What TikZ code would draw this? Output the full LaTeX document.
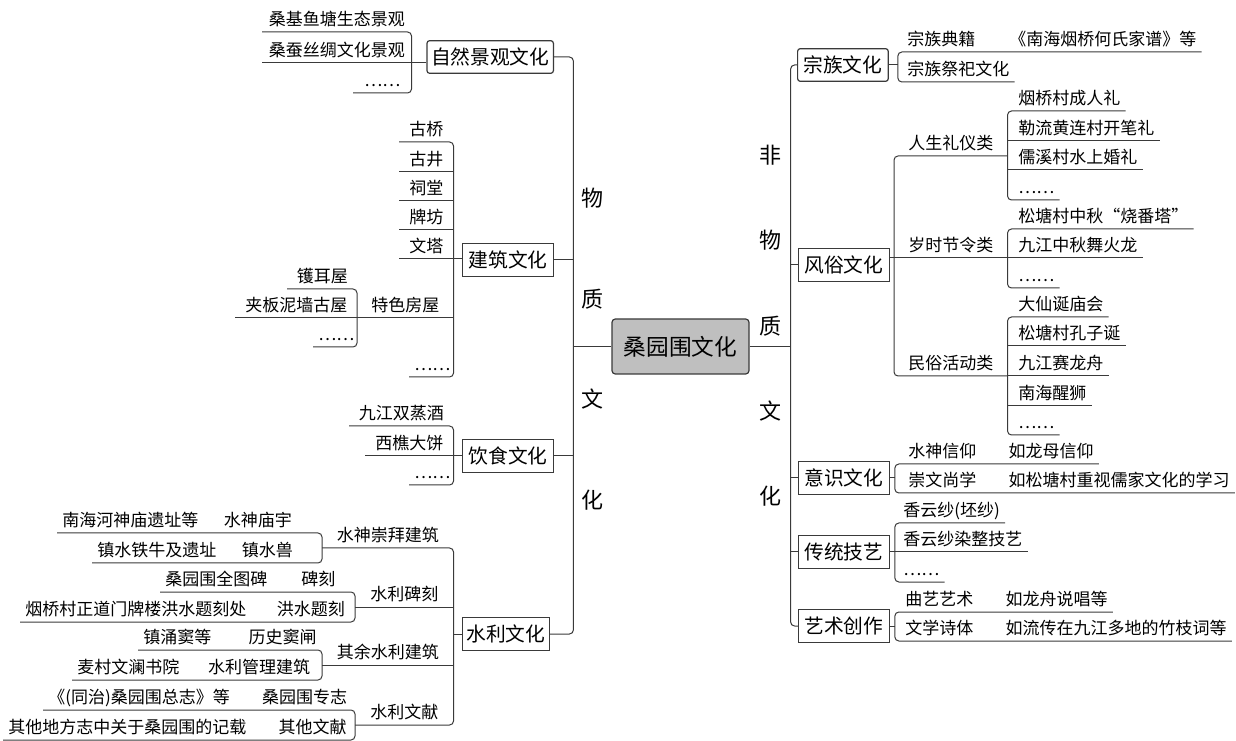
\documentclass[tikz,border=0pt]{standalone}
\usepackage{fontspec}
\setmainfont{Noto Sans CJK SC}
\usetikzlibrary{calc}
\definecolor{rootgray}{HTML}{BFBFBF}
\definecolor{lncol}{HTML}{3A3A3A}

\begin{document}
\begin{tikzpicture}[x=0.75pt,y=-0.75pt,
  ln/.style={draw=lncol,line width=0.75pt},
  cn/.style={ln,rounded corners=3pt},
  lf/.style={anchor=south west,inner xsep=3.75pt,inner ysep=2.7pt,text height=10.5pt,text depth=2pt,font=\fontsize{12.75}{14}\selectfont},
  box/.style={draw=lncol,line width=0.9pt,minimum width=68pt,minimum height=24.5pt,inner xsep=3pt,font=\fontsize{14.8}{16}\selectfont},
  vlab/.style={align=center,inner sep=0pt,font=\fontsize{16.5}{#1}\selectfont}]
\useasboundingbox (0,0) rectangle (1236,741);

% root and the two bars
\node[draw=lncol,line width=0.9pt,fill=rootgray,rounded corners=2.5pt,minimum width=102.75pt,minimum height=41.25pt,font=\fontsize{17}{19}\selectfont] (root) at (680.5,346.5) {桑园围文化};
\coordinate (lj) at ([xshift=-28.5pt]root.west);
\coordinate (rj) at ([xshift=30.75pt]root.east);
\node[vlab=75.5] (wz) at (592,349) {物\\质\\文\\化};
\node[vlab=64] (fwz) at (770,326) {非\\物\\质\\文\\化};

% left boxes
\node[box,anchor=east,minimum width=94.5pt,rounded corners=2pt] (nat) at (554,57) {自然景观文化};
\node[box,anchor=east] (arch) at (554,260) {建筑文化};
\node[box,anchor=east] (food) at (554,456) {饮食文化};
\node[box,anchor=east,minimum width=64.5pt] (water) at (550,634) {水利文化};

% right boxes
\node[box,anchor=west,rounded corners=2pt] (zong) at (797,65) {宗族文化};
\node[box,anchor=west] (fs) at (798,265) {风俗文化};
\node[box,anchor=west] (yishi) at (798,478) {意识文化};
\node[box,anchor=west] (ct) at (798,552) {传统技艺};
\node[box,anchor=west] (ys) at (798,626) {艺术创作};

\draw[ln] (root.west) -- (lj);
\draw[cn] (nat.east) -| (lj) |- (water.east);
\draw[ln] (arch.east) -- (lj |- arch.east);
\draw[ln] (food.east) -- (lj |- food.east);
\draw[ln] (root.east) -- (rj);
\draw[cn] (zong.west) -| (rj) |- (ys.west);
\draw[ln] (rj |- fs.west) -- (fs.west);
\draw[ln] (rj |- yishi.west) -- (yishi.west);
\draw[ln] (rj |- ct.west) -- (ct.west);

% 自然景观文化
\node[lf,minimum width=111.75pt] (z1) at (262,32) {桑基鱼塘生态景观};
\node[lf,minimum width=111.75pt] (z2) at (262,63) {桑蚕丝绸文化景观};
\node[lf,minimum width=43.5pt] (z3) at (353,93) {……};
\draw[cn] (z1.south west) -| (z2.south east) |- (z3.south west);
\draw[ln] (nat.west |- z2.south) -- (z2.south west);

% 建筑文化
\node[lf,minimum width=40.5pt] (a1) at (399,142) {古桥};
\node[lf,minimum width=40.5pt] (a2) at (399,172) {古井};
\node[lf,minimum width=40.5pt] (a3) at (399,201) {祠堂};
\node[lf,minimum width=40.5pt] (a4) at (399,230) {牌坊};
\node[lf,minimum width=40.5pt] (a5) at (399,259) {文塔};
\node[lf,minimum width=72pt] (a6) at (357,318) {特色房屋};
\node[lf,minimum width=33pt] (a7) at (409,377) {……};
\draw[cn] (a1.south west) -| (a5.south east) |- (a7.south west);
\draw[ln] (a5.south east |- a2.south) -- (a2.south west);
\draw[ln] (a5.south east |- a3.south) -- (a3.south west);
\draw[ln] (a5.south east |- a4.south) -- (a4.south west);
\draw[ln] (a5.south east |- a6.south) -- (a6.south west);
\draw[ln] (arch.west |- a5.south) -- (a5.south west);
\node[lf,minimum width=52.5pt] (h1) at (287,289) {镬耳屋};
\node[lf,minimum width=91.5pt] (h2) at (235,318) {夹板泥墙古屋};
\node[lf,minimum width=33pt] (h3) at (313,347) {……};
\draw[cn] (h1.south west) -| (a6.south west) |- (h3.south west);
\draw[ln] (a6.south west) -- (h2.south west);

% 饮食文化
\node[lf,minimum width=78pt] (f1) at (349,426) {九江双蒸酒};
\node[lf,minimum width=66pt] (f2) at (365,456) {西樵大饼};
\node[lf,minimum width=33pt] (f3) at (409,485) {……};
\draw[cn] (f1.south west) -| (f2.south east) |- (f3.south west);
\draw[ln] (food.west |- f2.south) -- (f2.south west);

% 水利文化
\node[lf,minimum width=98.25pt] (w1) at (322,548) {水神崇拜建筑};
\node[lf,minimum width=73.5pt] (w2) at (355,607) {水利碑刻};
\node[lf,minimum width=98.25pt] (w3) at (322,665) {其余水利建筑};
\node[lf,minimum width=73.5pt] (w4) at (355,725) {水利文献};
\coordinate (waterj) at (w1.south east |- water.west);
\draw[cn] (w1.south west) -| (waterj) |- (w4.south west);
\draw[ln] (waterj |- w2.south) -- (w2.south west);
\draw[ln] (waterj |- w3.south) -- (w3.south west);
\draw[ln] (water.west) -- (waterj);
\node[lf] (r1) at (57,533) {南海河神庙遗址等\hspace{1.5em}水神庙宇};
\node[lf] (r2) at (92,563) {镇水铁牛及遗址\hspace{1.5em}镇水兽};
\node[lf] (r3) at (160,592) {桑园围全图碑\hspace{2em}碑刻};
\node[lf] (r4) at (20,622) {烟桥村正道门牌楼洪水题刻处\hspace{1.8em}洪水题刻};
\node[lf] (r5) at (138,650) {镇涌窦等\hspace{2.2em}历史窦闸};
\node[lf] (r6) at (72,680) {麦村文澜书院\hspace{1.7em}水利管理建筑};
\node[lf] (r7) at (43,710) {《(同治)桑园围总志》等\hspace{1.9em}桑园围专志};
\node[lf] (r8) at (3,740) {其他地方志中关于桑园围的记载\hspace{1.9em}其他文献};
\draw[cn] (r1.south west) -| (w1.south west) |- (r2.south west);
\draw[cn] (r3.south west) -| (w2.south west) |- (r4.south west);
\draw[cn] (r5.south west) -| (w3.south west) |- (r6.south west);
\draw[cn] (r7.south west) -| (w4.south west) |- (r8.south west);

% 宗族文化
\coordinate (zongj) at ([xshift=6.75pt]zong.east);
\node[lf] (zd) at (902,52) {宗族典籍\hspace{2em}《南海烟桥何氏家谱》等};
\node[lf] (zj) at (902,82) {宗族祭祀文化};
\draw[cn] (zd.south east) -| (zongj) |- (zj.south east);
\draw[ln] (zong.east) -- (zongj);

% 风俗文化
\node[lf,minimum width=84.75pt] (s1) at (894,156) {人生礼仪类};
\node[lf,minimum width=84.75pt] (s2) at (894,258) {岁时节令类};
\node[lf,minimum width=84.75pt] (s3) at (894,376) {民俗活动类};
\draw[cn] (s1.south east) -| (s2.south west) |- (s3.south east);
\draw[ln] (fs.east |- s2.south) -- (s2.south east);
\node[lf] (p1) at (1013,111) {烟桥村成人礼};
\node[lf] (p2) at (1013,141) {勒流黄连村开笔礼};
\node[lf] (p3) at (1013,170) {儒溪村水上婚礼};
\node[lf] (p4) at (1013,200) {……};
\draw[cn] (p1.south east) -| (s1.south east) |- (p4.south east);
\draw[ln] (s1.south east |- p2.south) -- (p2.south east);
\draw[ln] (s1.south east |- p3.south) -- (p3.south east);
\node[lf] (q1) at (1013,229) {松塘村中秋“烧番塔”};
\node[lf] (q2) at (1013,258) {九江中秋舞火龙};
\node[lf] (q3) at (1013,288) {……};
\draw[cn] (q1.south east) -| (s2.south east) |- (q3.south east);
\draw[ln] (s2.south east) -- (q2.south east);
\node[lf] (m1) at (1013,317) {大仙诞庙会};
\node[lf] (m2) at (1013,346) {松塘村孔子诞};
\node[lf] (m3) at (1013,376) {九江赛龙舟};
\node[lf] (m4) at (1013,406) {南海醒狮};
\node[lf] (m5) at (1013,435) {……};
\draw[cn] (m1.south east) -| (s3.south east) |- (m5.south east);
\draw[ln] (s3.south east |- m2.south) -- (m2.south east);
\draw[ln] (s3.south east) -- (m3.south east);
\draw[ln] (s3.south east |- m4.south) -- (m4.south east);

% 意识文化
\coordinate (yij) at ([xshift=3.75pt]yishi.east);
\node[lf] (y1) at (903,464) {水神信仰\hspace{1.9em}如龙母信仰};
\node[lf] (y2) at (903,493) {崇文尚学\hspace{1.9em}如松塘村重视儒家文化的学习};
\draw[cn] (y1.south east) -| (yij) |- (y2.south east);
\draw[ln] (yishi.east) -- (yij);

% 传统技艺
\node[lf] (t1) at (898,523) {香云纱(坯纱)};
\node[lf] (t2) at (898,552) {香云纱染整技艺};
\node[lf] (t3) at (898,582) {……};
\coordinate (ctj) at ([xshift=3.75pt]ct.east);
\draw[cn] (t1.south east) -| (ctj) |- (t3.south east);
\draw[ln] (ct.east) -- (t2.south east);

% 艺术创作
\coordinate (ysj) at ([xshift=3.75pt]ys.east);
\node[lf] (k1) at (900,612) {曲艺艺术\hspace{1.9em}如龙舟说唱等};
\node[lf] (k2) at (900,641) {文学诗体\hspace{1.9em}如流传在九江多地的竹枝词等};
\draw[cn] (k1.south east) -| (ysj) |- (k2.south east);
\draw[ln] (ys.east) -- (ysj);
\end{tikzpicture}
\end{document}
